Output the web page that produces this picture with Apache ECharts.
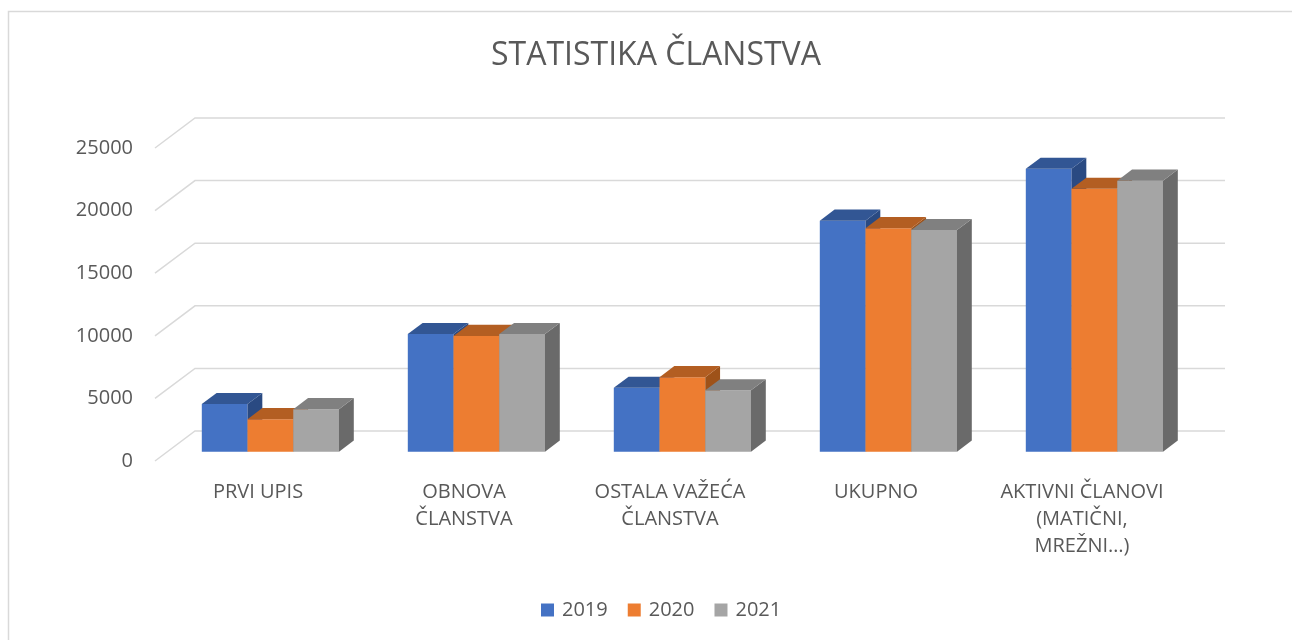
<!DOCTYPE html>
<html>
<head>
<meta charset="utf-8">
<title>Statistika članstva</title>
<script src="https://cdn.jsdelivr.net/npm/echarts@6/dist/echarts.min.js"></script>
<style>
    html, body { margin: 0; padding: 0; background: #fff; }
    #chart { width: 1292px; height: 640px; }
</style>
</head>
<body>
<div id="chart"></div>
<script>
// kategorije i godine
const categories = ['PRVI UPIS', 'OBNOVA\nČLANSTVA', 'OSTALA VAŽEĆA\nČLANSTVA', 'UKUPNO', 'AKTIVNI ČLANOVI\n(MATIČNI,\nMREŽNI…)']
const years = ['2019', '2020', '2021']

// vrijednosti po godinama (očitano sa slike)
const values2019 = [3800, 9400, 5100, 18450, 22600]
const values2020 = [2600, 9250, 5950, 17850, 21000]
const values2021 = [3400, 9400, 4900, 17700, 21650]

// oznake y osi
const yTicks = [0, 5000, 10000, 15000, 20000, 25000]

const colors = ['#4472C4', '#ED7D31', '#A5A5A5']
const topColors = ['#325694', '#B35E22', '#808080']
const sideColors = ['#2A4A82', '#9E5219', '#6A6A6A']

// 3D "pod" - pomak stražnje ravnine
const FLOOR_DX = 40
const FLOOR_DY = -30
const BAR_FRONT = 0.31 // gdje počinje prednja strana stupca (udio dubine poda)
const BAR_DEPTH = 0.37 // dubina stupca
const BAR_RATIO = 0.222 // širina stupca / širina kategorije

const textColor = '#595959'
const font = 'Open Sans'

const chart = echarts.init(document.getElementById('chart'))

const barSeries = (name, values, idx) => {
    return {
        name: name,
        type: 'custom',
        itemStyle: { color: colors[idx] },
        data: values.map((v, i) => [i, v]),
        renderItem: (params, api) => {
            const cat = api.value(0)
            const p0 = api.coord([cat, 0])
            const p1 = api.coord([cat, api.value(1)])
            const band = api.size([1, 0])[0]
            const barW = band * BAR_RATIO
            const fx = FLOOR_DX * BAR_FRONT
            const fy = FLOOR_DY * BAR_FRONT
            const dx = FLOOR_DX * BAR_DEPTH
            const dy = FLOOR_DY * BAR_DEPTH
            const x = p0[0] - barW * 1.5 + idx * barW + fx
            const yb = p0[1] + fy
            const yt = p1[1] + fy
            return {
                type: 'group',
                children: [
                    {
                        type: 'rect',
                        shape: { x: x, y: yt, width: barW, height: yb - yt },
                        style: { fill: colors[idx] },
                    },
                    {
                        type: 'polygon',
                        shape: { points: [[x + barW, yt], [x + barW + dx, yt + dy], [x + barW + dx, yb + dy], [x + barW, yb]] },
                        style: { fill: sideColors[idx] },
                    },
                    {
                        type: 'polygon',
                        shape: { points: [[x, yt], [x + barW, yt], [x + barW + dx, yt + dy], [x + dx, yt + dy]] },
                        style: { fill: topColors[idx] },
                    },
                ],
            }
        },
    }
}

let option = {
    animation: false,
    title: {
        text: 'STATISTIKA ČLANSTVA',
        left: 486,
        top: 35,
        textStyle: { fontFamily: font, fontSize: 32, fontWeight: 'normal', color: textColor },
    },
    legend: {
        data: years,
        left: 536,
        top: 595,
        icon: 'rect',
        itemWidth: 13,
        itemHeight: 13,
        itemGap: 20,
        textStyle: { fontFamily: font, fontSize: 20, color: textColor, padding: [0, 0, 0, 3] },
    },
    grid: { left: 155, right: 107, top: 148, bottom: 179 },
    xAxis: {
        type: 'category',
        data: categories,
        axisLine: { show: false },
        axisTick: { show: false },
        axisLabel: { interval: 0, margin: 18, fontFamily: font, fontSize: 20, lineHeight: 27, color: textColor },
    },
    yAxis: {
        type: 'value',
        min: 0,
        max: 25000,
        interval: 5000,
        axisLine: { show: false },
        axisTick: { show: false },
        splitLine: { show: false },
        axisLabel: {
            margin: 22,
            fontFamily: font,
            fontSize: 20,
            color: textColor,
            formatter: (v) => String(v),
        },
    },
    graphic: [
        {
            // okvir grafikona
            type: 'rect',
            silent: true,
            shape: { x: 8.5, y: 11.5, width: 1400, height: 800 },
            style: { fill: 'none', stroke: '#d9d9d9', lineWidth: 1.5 },
        },
    ],
    series: [
        {
            // mreža na stražnjem zidu
            name: 'grid',
            type: 'custom',
            silent: true,
            z: 1,
            data: yTicks.map((v) => [0, v]),
            renderItem: (params, api) => {
                const p = api.coord([0, api.value(1)])
                const cs = params.coordSys
                return {
                    type: 'polyline',
                    shape: {
                        points: [
                            [cs.x, p[1]],
                            [cs.x + FLOOR_DX, p[1] + FLOOR_DY],
                            [cs.x + cs.width + FLOOR_DX, p[1] + FLOOR_DY],
                        ],
                    },
                    style: { fill: 'none', stroke: '#d9d9d9', lineWidth: 1.5 },
                }
            },
        },
        barSeries(years[0], values2019, 0),
        barSeries(years[1], values2020, 1),
        barSeries(years[2], values2021, 2),
    ],
}

chart.setOption(option)
</script>
</body>
</html>
